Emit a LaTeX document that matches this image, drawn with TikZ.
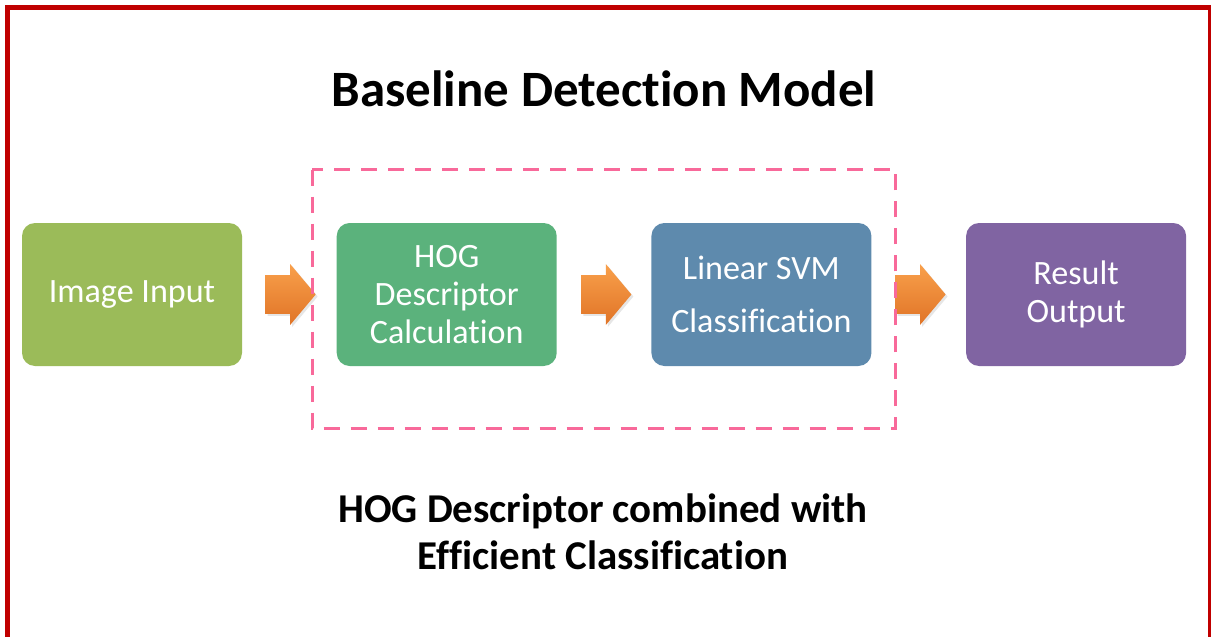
\documentclass[tikz,border=0pt]{standalone}
\usepackage{fontspec}
\setmainfont{Carlito}[Ligatures=NoCommon]
\usepackage{tikz}
\usetikzlibrary{positioning, calc, shapes.arrows, shadows}

\definecolor{frameRed}{HTML}{C00000}
\definecolor{dashPink}{HTML}{F8699A}
\definecolor{inputGreen}{HTML}{9BBB59}
\definecolor{hogGreen}{HTML}{5BB27C}
\definecolor{svmBlue}{HTML}{5E8AAD}
\definecolor{outPurple}{HTML}{8064A2}
\definecolor{arrowTop}{HTML}{F9A04B}
\definecolor{arrowBot}{HTML}{E07427}

\begin{document}
\begin{tikzpicture}[
    node distance=1.88cm,
    stage/.style={rounded corners=0.26cm, minimum width=4.4cm, minimum height=2.86cm,
      text=white, align=center, font=\fontsize{19.4}{21.6}\selectfont},
    flowarrow/.style={single arrow, single arrow head extend=0.22cm,
      single arrow tip angle=100, minimum height=1cm, inner xsep=0pt, inner ysep=0.38cm,
      top color=arrowTop, bottom color=arrowBot, draw=none, anchor=tail,
      drop shadow={opacity=0.2, shadow xshift=0.04cm, shadow yshift=-0.04cm}},
    groupbox/.style={draw=dashPink, line width=1.8pt, dash pattern=on 0.32cm off 0.22cm}
  ]
  \useasboundingbox (0,0) rectangle (24.22,12.72);

  % Outer frame (bottom edge runs off the page)
  \begin{scope}
    \clip (0,0) rectangle (24.22,12.72);
    \draw[frameRed, line width=0.1cm] (0.15,-1) -- (0.15,12.57) -- (24.21,12.57) -- (24.21,-1);
  \end{scope}

  % Title
  \node[anchor=base, font=\fontsize{29}{34}\selectfont\bfseries] (title) at (12.08,10.58)
    {Baseline Detection Model};

  % Pipeline stages
  \node[stage, fill=inputGreen] (img) at (2.64,6.83) {Image Input};
  \node[stage, fill=hogGreen, right=of img] (hog) {HOG\\Descriptor\\Calculation};
  \node[stage, fill=svmBlue, right=of hog] (svm) {Linear SVM\\[9pt]Classification};
  \node[stage, fill=outPurple, right=of svm] (res) {Result\\Output};

  % Block arrows between stages
  \node[flowarrow] (a1) at ($(img.east)+(0.46,0)$) {};
  \node[flowarrow] (a2) at ($(hog.east)+(0.48,0)$) {};
  \node[flowarrow] (a3) at ($(svm.east)+(0.47,0)$) {};

  % Dashed group round HOG + SVM
  \draw[groupbox] ($(hog.north west)+(-0.48,1.06)$) rectangle ($(svm.south east)+(0.48,-1.24)$);

  % Caption
  \node[align=center, font=\fontsize{23.3}{26.7}\selectfont\bfseries] (caption) at (12.06,2.09)
    {HOG Descriptor combined with\\Efficient Classification};
\end{tikzpicture}
\end{document}
